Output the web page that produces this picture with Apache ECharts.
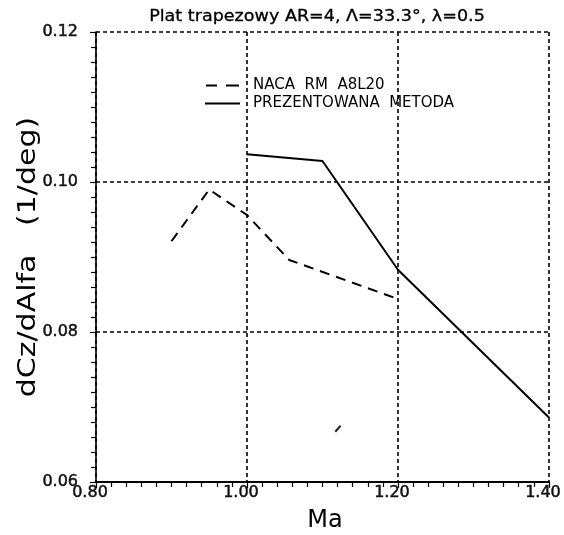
<!DOCTYPE html>
<html>
<head>
<meta charset="utf-8">
<script src="https://cdn.jsdelivr.net/npm/echarts@6/dist/echarts.min.js"></script>
<style>
html,body{margin:0;padding:0;background:#fff;}
#chart{width:564px;height:535px;}
</style>
</head>
<body>
<div id="chart"></div>
<script>
// ---- data ----
const titleText = 'Plat trapezowy AR=4, \u039B=33.3\u00B0, \u03BB=0.5';
const xName = 'Ma';
const yName = 'dCz/dAlfa   (1/deg)';
const seriesNames = ['NACA  RM  A8L20', 'PREZENTOWANA  METODA'];
const machNaca = [0.90, 0.95, 1.00, 1.056, 1.20];
const czNaca = [0.0921, 0.0990, 0.0956, 0.0896, 0.0844];
const machMetoda = [1.00, 1.10, 1.20, 1.40];
const czMetoda = [0.1037, 0.1028, 0.0883, 0.0686];
const machSpeck = [1.117, 1.124];
const czSpeck = [0.0667, 0.0675];
const xTicks = [0.80, 1.00, 1.20, 1.40];
const yTicks = [0.06, 0.08, 0.10, 0.12];

const zip = (a, b) => a.map((v, i) => [v, b[i]]);
const font = '"DejaVu Sans", sans-serif';
const chart = echarts.init(document.getElementById('chart'), null, {renderer: 'canvas'});
chart.setOption({
  backgroundColor: '#fff',
  animation: false,
  grid: {left: 96, right: 14, top: 32, bottom: 53, containLabel: false},
  xAxis: {
    type: 'value', min: xTicks[0], max: xTicks[xTicks.length - 1], interval: 0.2,
    axisLine: {show: true, onZero: false, lineStyle: {color: '#000', width: 2}},
    axisTick: {show: true, length: 6, lineStyle: {color: '#000', width: 1.2}},
    minorTick: {show: true, splitNumber: 10, length: 5, lineStyle: {color: '#000', width: 1.2}},
    axisLabel: {color: '#111', fontSize: 16, fontFamily: font, margin: 3, padding: [0, 12, 0, 0],
      textBorderColor: '#111', textBorderWidth: 0.5,
      formatter: v => v.toFixed(2)},
    splitLine: {show: true, lineStyle: {color: '#000', width: 1.6, type: [4, 3]}}
  },
  yAxis: {
    type: 'value', min: yTicks[0], max: yTicks[yTicks.length - 1], interval: 0.02,
    axisLine: {show: true, onZero: false, lineStyle: {color: '#000', width: 1.6}},
    axisTick: {show: true, length: 6, lineStyle: {color: '#000', width: 1.2}},
    minorTick: {show: true, splitNumber: 10, length: 5, lineStyle: {color: '#000', width: 1.2}},
    axisLabel: {color: '#111', fontSize: 16, fontFamily: font, margin: 18,
      textBorderColor: '#111', textBorderWidth: 0.5,
      formatter: v => v.toFixed(2)},
    splitLine: {show: true, lineStyle: {color: '#000', width: 1.6, type: [4, 3]}}
  },
  legend: {
    show: true, orient: 'vertical', left: 200, top: 73, itemWidth: 35, itemHeight: 2, itemGap: 3,
    data: [
      {name: seriesNames[0], icon: 'path://M0,0h11v2h-11z M20,0h13v2h-13z'},
      {name: seriesNames[1], icon: 'path://M0,0h35v2h-35z'}
    ],
    itemStyle: {color: '#000', borderWidth: 0},
    textStyle: {color: '#000', fontSize: 15, fontFamily: font, padding: [0, 0, 0, 8]}
  },
  graphic: [
    {type: 'text', x: 317, y: 17, scaleX: 1.17, style: {text: titleText, x: 0, y: 0, textAlign: 'center', textVerticalAlign: 'middle', font: '15px "DejaVu Sans", sans-serif', fill: '#000', stroke: '#000', lineWidth: 0.3}},
    {type: 'text', x: 29, y: 257, rotation: Math.PI / 2, scaleX: 1.25, style: {text: yName, x: 0, y: 0, textAlign: 'center', textVerticalAlign: 'middle', font: '24px "DejaVu Sans", sans-serif', fill: '#000'}},
    {type: 'text', x: 325, y: 521, style: {text: xName, x: 0, y: 0, textAlign: 'center', textVerticalAlign: 'middle', font: '24px "DejaVu Sans", sans-serif', fill: '#000'}}
  ],
  series: [
    {name: seriesNames[0], type: 'line', data: zip(machNaca, czNaca), symbol: 'none',
      lineStyle: {color: '#000', width: 2, type: [10, 7]}, itemStyle: {color: '#000'}},
    {name: seriesNames[1], type: 'line', data: zip(machMetoda, czMetoda), symbol: 'none',
      lineStyle: {color: '#000', width: 2}, itemStyle: {color: '#000'}},
    {name: 'speck', type: 'line', data: zip(machSpeck, czSpeck), symbol: 'none', silent: true,
      lineStyle: {color: '#222', width: 2}}
  ]
});
</script>
</body>
</html>
